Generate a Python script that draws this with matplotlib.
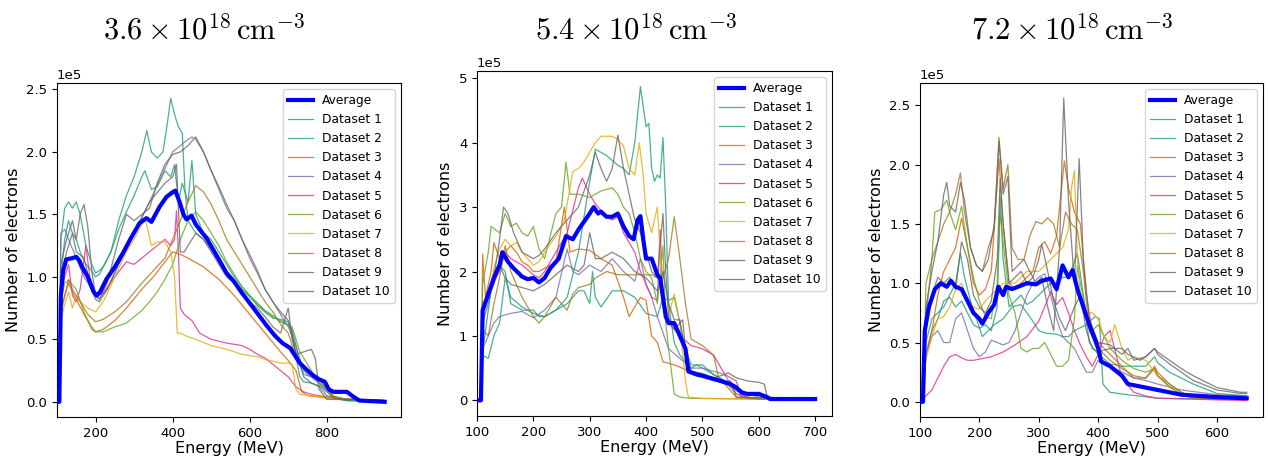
import numpy as np
import matplotlib
matplotlib.use("Agg")
import matplotlib.pyplot as plt

plt.rcParams['mathtext.fontset'] = 'cm'

# ---------------- data (energy MeV, electrons in units of 1e5) ----------------
titles = [r'$3.6\times10^{18}\,\mathrm{cm}^{-3}$',
          r'$5.4\times10^{18}\,\mathrm{cm}^{-3}$',
          r'$7.2\times10^{18}\,\mathrm{cm}^{-3}$']
labels = ['Dataset %d' % i for i in range(1, 11)]

# ----- panel 1 : 3.6e18 -----
p1_avg = [(100,0),(106,0),(110,0.85),(116,1.05),(124,1.14),(140,1.15),(150,1.16),(158,1.13),(165,1.08),(180,1.0),(195,0.88),(203,0.85),(212,0.88),(228,0.98),(250,1.08),(271,1.19),(290,1.3),(314,1.43),(332,1.47),(345,1.44),(366,1.56),(384,1.64),(401,1.68),(407,1.69),(418,1.6),(428,1.5),(436,1.46),(449,1.49),(460,1.42),(475,1.36),(488,1.31),(505,1.22),(520,1.14),(540,1.03),(560,0.96),(580,0.87),(600,0.79),(622,0.7),(644,0.61),(665,0.53),(685,0.47),(705,0.43),(730,0.31),(750,0.25),(765,0.21),(780,0.18),(795,0.16),(805,0.1),(817,0.08),(835,0.08),(852,0.08),(865,0.05),(874,0.03),(885,0.01),(950,0.0)]
p1_d1 = [(100,0),(105,0),(110,1.3),(120,1.55),(130,1.6),(140,1.55),(150,1.6),(160,1.5),(175,1.25),(190,1.1),(200,1.03),(210,1.05),(220,1.08),(240,1.2),(260,1.45),(280,1.65),(300,1.8),(320,2.0),(333,2.17),(345,2.0),(360,1.95),(375,2.0),(385,2.2),(395,2.43),(405,2.3),(415,2.2),(425,2.15),(432,1.7),(440,1.45),(460,1.35),(480,1.3),(500,1.22),(520,1.12),(540,1.04),(560,0.97),(580,0.9),(600,0.84),(620,0.77),(640,0.72),(660,0.67),(680,0.66),(700,0.64),(710,0.56),(720,0.36),(730,0.2),(740,0.16),(760,0.15),(780,0.13),(800,0.08),(820,0.03),(850,0.01),(950,0.0)]
p1_d2 = [(100,0),(105,0),(110,1.0),(120,1.3),(130,1.45),(140,1.35),(150,1.3),(160,1.2),(175,1.1),(190,1.05),(200,1.0),(210,1.02),(220,1.08),(240,1.2),(260,1.38),(280,1.52),(300,1.65),(320,1.8),(328,1.85),(345,1.7),(360,1.72),(380,1.85),(395,1.8),(405,1.9),(415,1.6),(425,1.75),(440,1.6),(450,1.93),(460,1.5),(480,1.35),(500,1.3),(520,1.2),(540,1.1),(560,1.0),(580,0.92),(600,0.85),(620,0.79),(640,0.73),(660,0.69),(680,0.64),(700,0.61),(710,0.58),(720,0.45),(730,0.3),(740,0.22),(760,0.2),(780,0.15),(800,0.1),(820,0.03),(850,0.01),(950,0.0)]
p1_d3 = [(100,0),(105,0),(110,0.7),(120,0.85),(130,0.95),(140,0.88),(150,0.82),(170,0.7),(190,0.6),(200,0.56),(220,0.58),(250,0.65),(280,0.75),(320,0.9),(350,1.0),(380,1.12),(400,1.2),(420,1.18),(440,1.15),(480,1.08),(520,0.98),(560,0.85),(600,0.7),(640,0.55),(680,0.4),(700,0.33),(720,0.25),(735,0.08),(750,0.05),(800,0.03),(950,0.01)]
p1_d4 = [(100,0),(105,0),(110,1.35),(120,1.38),(130,1.3),(150,1.15),(170,1.0),(190,0.9),(200,0.85),(210,0.83),(230,0.9),(260,1.1),(300,1.35),(340,1.6),(370,1.8),(400,2.0),(420,2.05),(440,2.1),(450,2.12),(460,2.1),(480,2.0),(500,1.85),(520,1.7),(540,1.55),(560,1.45),(580,1.3),(600,1.18),(620,1.05),(640,0.9),(660,0.8),(680,0.7),(700,0.6),(720,0.45),(730,0.35),(740,0.25),(750,0.22),(760,0.2),(780,0.15),(800,0.08),(820,0.04),(850,0.02),(950,0.01)]
p1_d5 = [(100,0),(105,0),(110,0.85),(120,1.0),(130,1.1),(140,0.85),(150,0.8),(160,0.9),(175,1.25),(185,1.0),(200,0.85),(220,0.87),(250,1.0),(280,1.12),(300,1.1),(320,1.15),(340,1.2),(360,1.25),(380,1.3),(395,1.25),(405,1.3),(410,1.53),(415,1.2),(420,0.75),(430,0.7),(450,0.65),(470,0.55),(500,0.5),(540,0.47),(580,0.45),(600,0.42),(620,0.38),(640,0.35),(660,0.3),(680,0.25),(700,0.2),(720,0.12),(740,0.08),(760,0.06),(800,0.04),(850,0.02),(950,0.01)]
p1_d6 = [(100,0),(105,0),(110,0.8),(120,0.95),(130,0.97),(150,0.9),(170,0.72),(190,0.58),(200,0.56),(220,0.56),(250,0.6),(280,0.63),(300,0.68),(320,0.73),(340,0.8),(360,0.88),(380,0.98),(400,1.1),(420,1.3),(440,1.45),(460,1.52),(480,1.45),(500,1.35),(520,1.25),(540,1.12),(560,1.02),(580,0.92),(600,0.85),(620,0.78),(640,0.72),(660,0.68),(680,0.65),(700,0.62),(710,0.6),(720,0.5),(730,0.4),(740,0.35),(760,0.25),(780,0.15),(800,0.12),(810,0.05),(850,0.02),(950,0.01)]
p1_d7 = [(100,0),(104,0.35),(110,0.65),(120,0.78),(130,0.88),(140,0.75),(150,0.85),(160,0.8),(180,0.75),(200,0.72),(220,0.8),(250,1.0),(280,1.2),(300,1.3),(320,1.42),(330,1.45),(345,1.25),(360,1.28),(380,1.28),(395,1.2),(405,1.0),(412,0.55),(420,0.55),(440,0.52),(460,0.5),(500,0.45),(540,0.42),(580,0.38),(600,0.37),(620,0.36),(640,0.34),(680,0.31),(700,0.31),(710,0.3),(720,0.1),(730,0.06),(760,0.05),(800,0.04),(850,0.02),(950,0.01)]
p1_d8 = [(100,0),(105,0),(110,0.75),(120,0.85),(130,0.98),(140,0.9),(160,0.8),(180,0.7),(200,0.64),(220,0.66),(250,0.72),(280,0.8),(320,0.95),(350,1.05),(380,1.15),(400,1.3),(420,1.45),(440,1.6),(460,1.73),(480,1.68),(500,1.58),(520,1.45),(540,1.3),(560,1.2),(580,1.1),(600,1.0),(620,0.9),(640,0.8),(660,0.72),(680,0.62),(700,0.55),(720,0.35),(740,0.28),(760,0.22),(780,0.18),(800,0.1),(820,0.04),(850,0.02),(950,0.01)]
p1_d9 = [(100,0),(105,0),(110,1.1),(125,1.3),(140,1.45),(150,1.3),(160,1.5),(170,1.58),(180,1.4),(190,1.05),(200,0.85),(210,0.82),(230,0.95),(260,1.3),(280,1.5),(300,1.45),(320,1.5),(340,1.55),(360,1.75),(380,1.9),(400,1.98),(420,2.0),(440,2.05),(460,2.12),(480,2.0),(500,1.85),(520,1.72),(540,1.58),(560,1.45),(580,1.3),(600,1.15),(620,1.03),(640,0.9),(660,0.8),(680,0.72),(700,0.65),(720,0.4),(740,0.2),(760,0.15),(780,0.12),(800,0.05),(820,0.03),(850,0.02),(950,0.01)]
p1_d10 = [(100,0),(105,0),(110,1.0),(125,1.2),(140,1.35),(150,1.2),(170,1.15),(190,0.9),(200,0.82),(210,0.8),(230,0.9),(260,1.1),(300,1.35),(340,1.6),(380,1.75),(400,1.8),(410,1.9),(420,1.2),(430,1.2),(440,1.25),(460,1.35),(480,1.3),(500,1.2),(520,1.1),(540,1.0),(560,0.95),(580,0.88),(600,0.8),(620,0.75),(640,0.68),(660,0.6),(680,0.55),(700,0.75),(710,0.5),(720,0.38),(740,0.4),(760,0.42),(770,0.35),(780,0.1),(800,0.02),(950,0.01)]

# ----- panel 2 : 5.4e18 -----
p2_avg = [(100,0),(107,0),(110,1.4),(120,1.65),(130,1.9),(140,2.1),(145,2.3),(155,2.15),(165,2.05),(180,1.92),(190,1.88),(200,1.9),(210,1.83),(220,1.9),(230,2.05),(245,2.2),(258,2.55),(270,2.5),(280,2.65),(300,2.9),(307,3.0),(315,2.9),(320,2.93),(330,2.85),(340,2.85),(350,2.9),(360,2.7),(370,2.55),(378,2.5),(385,2.8),(390,2.86),(395,2.5),(400,2.2),(410,2.2),(420,1.95),(425,1.9),(430,1.6),(435,1.3),(440,1.2),(450,1.2),(455,1.1),(460,1.0),(470,0.8),(475,0.45),(490,0.4),(500,0.38),(520,0.33),(540,0.28),(550,0.25),(560,0.2),(570,0.12),(580,0.1),(600,0.1),(615,0.05),(620,0.02),(700,0.02)]
p2_d1 = [(100,0),(107,0),(110,0.7),(120,0.65),(130,1.0),(140,1.2),(150,1.9),(160,1.6),(180,1.45),(200,1.35),(220,1.3),(240,1.4),(260,1.6),(280,2.3),(300,3.4),(310,3.9),(330,3.8),(350,3.65),(360,3.6),(370,3.5),(380,4.0),(390,4.87),(400,4.25),(405,4.3),(410,3.6),(415,3.4),(420,3.5),(425,3.45),(430,4.08),(435,3.0),(440,1.5),(450,0.9),(460,0.7),(470,0.6),(480,0.5),(490,0.55),(500,0.5),(520,0.4),(540,0.3),(560,0.2),(580,0.1),(600,0.05),(620,0.02),(700,0.01)]
p2_d2 = [(100,0),(107,0),(110,0.75),(120,1.4),(130,2.0),(140,2.1),(150,2.0),(160,1.5),(180,1.4),(200,1.4),(210,1.3),(220,1.3),(240,1.4),(260,1.5),(280,1.7),(290,1.7),(300,1.5),(305,2.0),(310,1.6),(320,1.45),(340,1.7),(360,1.7),(380,1.6),(400,1.35),(420,1.3),(430,1.6),(440,1.55),(450,1.6),(460,1.2),(470,0.8),(480,0.55),(500,0.55),(520,0.4),(540,0.3),(560,0.15),(580,0.05),(600,0.02),(700,0.01)]
p2_d3 = [(100,0),(107,0),(110,2.27),(115,1.6),(125,2.0),(130,2.45),(140,2.2),(150,2.3),(160,2.4),(170,2.3),(180,2.15),(190,2.1),(200,2.0),(210,2.0),(220,2.05),(240,2.15),(255,3.0),(265,2.3),(280,2.35),(300,2.33),(320,2.2),(340,2.1),(360,1.6),(370,1.3),(380,1.45),(390,1.6),(400,1.55),(410,1.0),(420,0.9),(430,0.6),(450,0.55),(470,0.48),(500,0.4),(520,0.35),(540,0.3),(560,0.1),(580,0.05),(600,0.03),(700,0.01)]
p2_d4 = [(100,0),(107,0),(110,0.8),(120,1.0),(130,1.2),(140,1.3),(160,1.35),(180,1.38),(200,1.28),(220,1.4),(240,1.6),(260,2.35),(270,2.0),(280,1.95),(300,2.1),(320,2.0),(340,2.2),(350,2.1),(360,2.0),(380,1.85),(390,2.2),(400,1.8),(410,1.6),(420,1.3),(440,0.8),(460,0.65),(480,0.5),(500,0.5),(520,0.45),(540,0.4),(560,0.1),(580,0.03),(700,0.01)]
p2_d5 = [(100,0),(107,0),(110,1.5),(120,1.6),(130,1.85),(140,2.0),(150,2.3),(160,2.2),(180,2.1),(200,1.95),(210,1.9),(220,2.0),(240,2.3),(260,2.6),(280,3.3),(287,3.45),(300,3.2),(310,3.05),(320,2.95),(330,2.85),(340,2.8),(350,2.85),(360,2.6),(370,2.45),(380,2.3),(390,2.0),(400,1.8),(410,1.6),(420,1.55),(425,2.65),(430,1.6),(440,1.2),(460,1.0),(480,0.85),(500,0.8),(520,0.7),(540,0.4),(560,0.3),(570,0.05),(600,0.03),(700,0.01)]
p2_d6 = [(100,0),(107,0),(110,1.8),(120,2.3),(125,2.7),(140,2.6),(150,2.9),(160,2.7),(170,2.75),(180,2.6),(190,2.55),(200,2.7),(210,2.35),(220,2.2),(240,2.9),(250,3.0),(258,3.7),(265,3.2),(280,3.2),(300,3.15),(320,3.25),(340,3.3),(350,3.2),(360,3.0),(370,2.9),(380,2.6),(390,2.2),(400,2.0),(410,1.9),(420,1.5),(430,2.4),(435,1.2),(440,0.8),(450,0.1),(460,0.05),(480,0.03),(700,0.01)]
p2_d7 = [(100,0),(107,0),(110,1.4),(120,1.6),(130,2.05),(140,2.35),(150,2.5),(160,2.4),(170,2.45),(180,2.3),(190,2.2),(200,2.1),(210,2.15),(220,2.3),(240,2.55),(255,2.8),(270,3.55),(280,3.6),(290,3.7),(300,3.85),(310,4.0),(320,4.1),(340,4.1),(350,4.05),(360,3.95),(370,3.6),(380,3.5),(388,4.0),(395,3.5),(400,2.9),(410,2.6),(420,3.0),(430,1.6),(440,1.3),(450,1.65),(460,1.2),(470,0.3),(475,0.05),(500,0.03),(700,0.01)]
p2_d8 = [(100,0),(107,0),(110,1.1),(120,1.0),(130,1.5),(140,1.9),(150,2.4),(160,2.0),(180,1.6),(200,1.3),(210,1.2),(220,1.3),(240,1.6),(250,1.5),(260,1.4),(270,1.65),(280,1.75),(300,1.8),(310,1.9),(330,2.0),(350,1.95),(370,1.95),(390,1.95),(410,1.95),(420,1.9),(430,1.9),(440,2.2),(450,2.85),(460,2.2),(470,1.5),(480,0.95),(500,0.85),(520,0.7),(530,0.3),(540,0.25),(560,0.05),(600,0.02),(700,0.01)]
p2_d9 = [(100,0),(107,0),(110,1.2),(120,1.5),(130,1.9),(140,2.5),(147,3.0),(155,2.9),(165,2.6),(180,2.3),(190,2.25),(200,2.2),(210,2.25),(220,2.35),(240,2.6),(260,2.8),(280,3.0),(300,3.5),(310,3.85),(320,3.6),(330,3.4),(340,3.6),(350,4.12),(360,3.6),(370,3.2),(380,2.8),(390,2.6),(400,2.3),(410,2.0),(420,1.9),(430,2.9),(435,2.0),(440,1.3),(450,1.1),(465,1.25),(470,0.8),(480,0.45),(500,0.42),(520,0.35),(540,0.3),(550,0.3),(560,0.05),(700,0.01)]
p2_d10 = [(100,0),(107,0),(110,1.3),(120,1.6),(130,1.8),(140,2.1),(150,1.9),(160,1.8),(180,1.75),(200,1.7),(220,1.8),(240,1.95),(260,2.1),(280,2.0),(290,2.1),(300,2.6),(310,2.2),(320,2.2),(340,2.3),(360,2.2),(380,2.0),(400,1.9),(420,1.7),(430,2.0),(440,1.5),(450,1.25),(460,1.25),(470,0.7),(480,0.45),(500,0.4),(520,0.35),(540,0.4),(545,0.43),(560,0.35),(580,0.3),(600,0.28),(610,0.25),(615,0.05),(700,0.01)]

# ----- panel 3 : 7.2e18 -----
p3_avg = [(100,0),(105,0),(108,0.6),(115,0.8),(125,0.95),(135,1.0),(145,0.97),(152,1.02),(160,0.97),(170,0.95),(180,0.85),(190,0.75),(200,0.7),(205,0.66),(215,0.75),(225,0.82),(232,0.97),(240,0.9),(245,0.97),(255,0.95),(265,0.97),(280,1.0),(295,0.99),(305,1.02),(320,1.04),(330,0.95),(340,1.15),(345,1.1),(350,1.05),(357,1.11),(365,0.95),(375,0.8),(385,0.65),(395,0.52),(400,0.45),(405,0.34),(420,0.3),(440,0.22),(450,0.15),(480,0.12),(500,0.1),(540,0.06),(600,0.04),(650,0.03)]
p3_d1 = [(100,0),(105,0),(110,0.5),(120,0.7),(130,0.75),(140,0.8),(150,0.9),(160,1.0),(168,1.25),(175,1.05),(185,0.85),(195,0.7),(205,0.55),(215,0.6),(225,0.65),(240,0.7),(255,0.8),(270,0.82),(280,0.75),(290,0.68),(300,0.6),(310,0.58),(330,0.57),(340,0.55),(350,0.55),(360,0.6),(380,0.65),(395,0.72),(402,0.7),(408,0.15),(420,0.08),(450,0.06),(500,0.03),(650,0.02)]
p3_d2 = [(100,0),(105,0),(110,0.4),(120,0.6),(130,0.7),(140,0.85),(150,0.88),(160,0.8),(170,0.85),(180,0.75),(190,0.65),(200,0.62),(210,0.65),(220,0.6),(230,0.8),(235,1.73),(240,1.2),(250,0.8),(260,0.85),(270,0.9),(280,0.82),(290,0.85),(300,0.9),(310,0.95),(320,1.0),(330,1.0),(340,1.05),(350,1.05),(365,1.25),(375,0.9),(385,0.5),(400,0.4),(420,0.32),(440,0.3),(460,0.3),(480,0.3),(495,0.38),(500,0.33),(520,0.25),(540,0.2),(560,0.15),(600,0.07),(650,0.05)]
p3_d3 = [(100,0),(105,0),(110,0.4),(120,0.6),(130,0.9),(140,1.1),(150,1.2),(160,1.3),(170,1.55),(180,1.3),(190,1.0),(200,0.9),(210,0.95),(220,1.1),(233,2.05),(240,1.5),(250,1.0),(260,0.95),(270,1.0),(280,1.05),(290,1.1),(300,1.3),(310,1.35),(320,1.25),(330,1.4),(343,2.03),(350,1.8),(360,1.6),(370,1.5),(380,0.9),(390,0.6),(400,0.5),(420,0.4),(440,0.3),(460,0.2),(480,0.2),(495,0.3),(500,0.25),(520,0.15),(540,0.08),(560,0.04),(600,0.02),(650,0.02)]
p3_d4 = [(100,0),(105,0),(110,0.4),(120,0.55),(130,0.6),(140,0.5),(150,0.5),(160,0.7),(170,0.75),(180,0.6),(190,0.45),(200,0.38),(210,0.42),(220,0.52),(230,0.5),(240,0.48),(250,0.5),(260,0.6),(270,0.75),(280,0.9),(290,1.0),(300,1.05),(310,1.08),(320,0.9),(330,0.7),(340,0.55),(350,0.5),(360,0.45),(370,0.35),(380,0.25),(390,0.25),(400,0.35),(420,0.3),(440,0.25),(460,0.2),(480,0.18),(500,0.15),(540,0.1),(600,0.06),(650,0.05)]
p3_d5 = [(100,0),(105,0.02),(110,0.05),(120,0.1),(130,0.2),(140,0.3),(150,0.38),(160,0.4),(170,0.37),(180,0.35),(190,0.35),(200,0.36),(220,0.38),(240,0.42),(260,0.48),(280,0.55),(300,0.68),(310,0.8),(320,0.93),(330,0.82),(340,0.88),(350,0.75),(360,0.6),(370,0.48),(380,0.38),(390,0.3),(400,0.4),(410,0.55),(420,0.6),(430,0.4),(440,0.2),(460,0.08),(480,0.05),(500,0.03),(650,0.01)]
p3_d6 = [(100,0),(105,0),(110,1.0),(120,1.2),(125,1.6),(135,1.62),(145,1.7),(150,1.6),(160,1.45),(170,1.65),(180,1.3),(190,1.05),(200,0.85),(210,0.72),(220,0.7),(230,1.0),(235,1.6),(240,1.35),(250,0.9),(260,0.75),(270,0.45),(280,0.42),(290,0.45),(300,0.45),(310,0.5),(320,0.4),(330,0.3),(340,0.3),(350,0.35),(360,0.7),(365,1.15),(370,1.0),(380,0.75),(390,0.6),(400,0.65),(410,0.55),(420,0.45),(440,0.35),(460,0.28),(480,0.25),(495,0.28),(500,0.22),(520,0.15),(540,0.08),(560,0.04),(650,0.02)]
p3_d7 = [(100,0),(105,0.3),(110,0.35),(120,0.55),(130,0.7),(140,0.72),(150,0.8),(160,0.95),(170,1.0),(180,0.85),(190,0.8),(200,0.78),(210,0.85),(220,0.9),(230,0.95),(240,1.0),(260,1.0),(280,1.1),(300,1.1),(320,1.2),(340,1.3),(350,1.45),(355,1.8),(360,1.95),(365,1.2),(370,0.9),(380,0.75),(390,0.75),(400,0.7),(410,0.55),(420,0.5),(428,0.65),(440,0.45),(450,0.35),(460,0.38),(480,0.35),(500,0.22),(520,0.12),(540,0.07),(560,0.04),(650,0.02)]
p3_d8 = [(100,0),(105,0),(110,0.7),(120,1.2),(130,1.35),(140,1.5),(150,1.6),(160,1.75),(168,1.93),(175,1.6),(185,1.3),(195,1.15),(205,1.1),(215,1.3),(225,1.45),(233,2.23),(240,1.8),(248,2.0),(255,1.3),(265,1.2),(275,1.2),(285,1.4),(295,1.52),(305,1.5),(315,1.55),(325,1.5),(335,1.3),(345,1.6),(355,1.5),(365,1.45),(375,1.1),(385,0.6),(395,0.5),(400,0.45),(420,0.35),(440,0.28),(460,0.22),(480,0.2),(495,0.28),(500,0.22),(520,0.13),(540,0.06),(560,0.03),(650,0.02)]
p3_d9 = [(100,0),(105,0),(110,0.8),(120,1.1),(130,1.35),(140,1.75),(145,1.85),(150,1.65),(160,1.6),(168,1.85),(175,1.7),(185,1.3),(195,1.15),(205,1.1),(215,1.2),(225,1.5),(233,2.2),(240,1.75),(248,1.9),(255,1.1),(265,1.15),(275,1.2),(285,1.1),(295,1.0),(305,1.05),(315,0.8),(325,0.6),(335,1.3),(342,2.56),(350,1.7),(360,1.0),(368,2.05),(375,1.2),(385,0.7),(400,0.5),(420,0.48),(440,0.4),(450,0.45),(460,0.35),(480,0.38),(495,0.45),(500,0.4),(520,0.32),(540,0.25),(560,0.18),(600,0.1),(640,0.07),(650,0.07)]
p3_d10 = [(100,0),(105,0),(110,0.6),(120,0.9),(130,1.05),(140,1.0),(150,1.05),(160,0.95),(170,1.35),(180,1.2),(190,0.9),(200,0.8),(210,0.75),(220,0.85),(230,1.2),(235,1.88),(240,1.5),(250,1.0),(260,1.05),(270,1.1),(280,1.0),(290,1.05),(300,1.2),(305,1.33),(315,1.1),(325,0.85),(335,0.7),(345,0.6),(360,0.8),(370,0.9),(380,0.6),(390,0.45),(400,0.42),(420,0.45),(440,0.45),(450,0.4),(470,0.35),(480,0.38),(495,0.45),(500,0.42),(520,0.35),(540,0.28),(560,0.22),(600,0.12),(640,0.08),(650,0.08)]

panels = [
    (p1_avg, [p1_d1, p1_d2, p1_d3, p1_d4, p1_d5, p1_d6, p1_d7, p1_d8, p1_d9, p1_d10]),
    (p2_avg, [p2_d1, p2_d2, p2_d3, p2_d4, p2_d5, p2_d6, p2_d7, p2_d8, p2_d9, p2_d10]),
    (p3_avg, [p3_d1, p3_d2, p3_d3, p3_d4, p3_d5, p3_d6, p3_d7, p3_d8, p3_d9, p3_d10]),
]

# ---------------- layout ----------------
W, H = 1268, 458
fig = plt.figure(figsize=(W / 100, H / 100), dpi=100)
boxes = [(57, 83, 401, 417), (477, 71, 832, 416), (920, 83, 1263, 417)]
title_x = [204, 636, 1072]
colors = plt.cm.Dark2(np.linspace(0, 1, 10))

for k, ((avg, dsets), (l, t, r, b)) in enumerate(zip(panels, boxes)):
    ax = fig.add_axes([l / W, (H - b) / H, (r - l) / W, (b - t) / H])
    ax.plot([p[0] for p in avg], [p[1] * 1e5 for p in avg], color='blue', lw=3,
            label='Average', zorder=5)
    for i, ds in enumerate(dsets):
        ax.plot([p[0] for p in ds], [p[1] * 1e5 for p in ds], color=colors[i],
                lw=0.9, alpha=0.8, label=labels[i])
    ax.set_xlim(left=100)
    ax.ticklabel_format(axis='y', style='sci', scilimits=(0, 0))
    ax.tick_params(labelsize=9.5)
    ax.yaxis.get_offset_text().set_fontsize(9.5)
    ax.set_xlabel('Energy (MeV)', fontsize=11.5, labelpad=1)
    ax.set_ylabel('Number of electrons', fontsize=11.5)
    ax.legend(loc='upper right', fontsize=8.8)
    fig.text(title_x[k] / W, 1 - 30 / H, titles[k], ha='center', va='center',
             fontsize=22)

fig.savefig('out.png', dpi=100)
